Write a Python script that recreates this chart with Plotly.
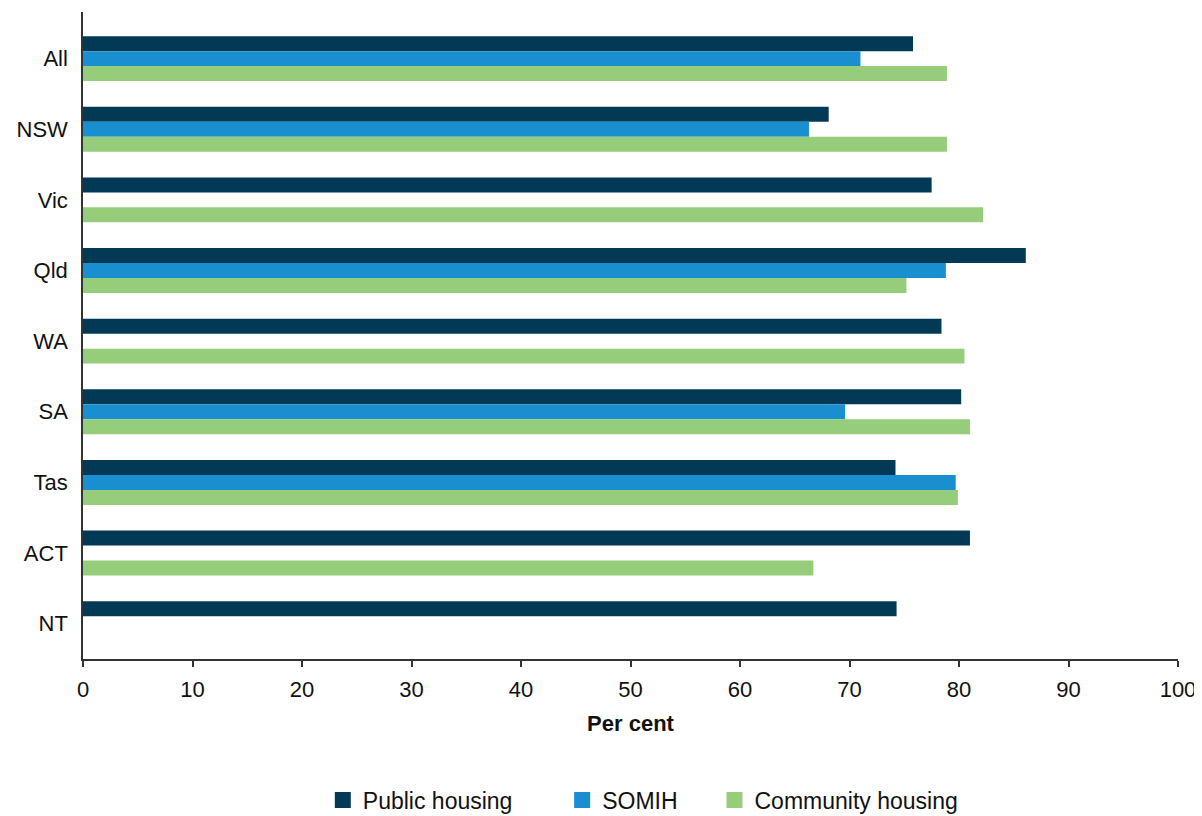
import plotly.graph_objects as go

categories = ["All", "NSW", "Vic", "Qld", "WA", "SA", "Tas", "ACT", "NT"]
public_housing = [75.8, 68.1, 77.5, 86.1, 78.4, 80.2, 74.2, 81.0, 74.3]
somih = [71.0, 66.3, None, 78.8, None, 69.6, 79.7, None, None]
community_housing = [78.9, 78.9, 82.2, 75.2, 80.5, 81.0, 79.9, 66.7, None]
x_ticks = [0, 10, 20, 30, 40, 50, 60, 70, 80, 90, 100]

series = [
    ("Public housing", public_housing, "#023a55", 7),
    ("SOMIH", somih, "#1a8fd0", 5),
    ("Community housing", community_housing, "#96cd7b", 0),
]

fig = go.Figure()
for name, vals, color, npad in series:
    fig.add_trace(go.Bar(
        y=categories, x=vals, name=name, orientation="h",
        marker=dict(color=color, line=dict(width=0)),
        showlegend=False,
    ))
for name, vals, color, npad in series:
    # legend-only entry with a larger square swatch
    fig.add_trace(go.Scatter(
        x=[None], y=[None], mode="markers", name=name + "\u00a0" * npad,
        marker=dict(symbol="square", size=17, color=color),
        showlegend=True, hoverinfo="skip",
    ))

font_family = "Liberation Sans, Arial, sans-serif"
fig.update_layout(
    width=1194, height=816,
    margin=dict(l=75, r=24, t=4, b=164),
    paper_bgcolor="white", plot_bgcolor="white",
    barmode="group", bargap=0.364, bargroupgap=0,
    font=dict(family=font_family, size=22, color="#111111"),
    xaxis=dict(
        range=[0, 100], tickvals=x_ticks, showgrid=False, zeroline=False,
        showline=True, linecolor="#333333", linewidth=1.5,
        ticks="outside", ticklen=6, tickcolor="#333333", tickwidth=1.5,
        ticklabelstandoff=4,
        title=dict(text="<b>Per cent</b>", font=dict(size=22), standoff=14),
        tickfont=dict(size=22),
    ),
    yaxis=dict(
        type="category", categoryorder="array", categoryarray=categories,
        range=[8.5, -0.66], showgrid=False, zeroline=False,
        showline=True, linecolor="#333333", linewidth=1.5,
        ticks="", ticklabelstandoff=9, tickfont=dict(size=22),
    ),
    legend=dict(
        orientation="h", x=0.219, xanchor="left", y=-0.216, yanchor="middle",
        font=dict(size=23, family=font_family),
        traceorder="normal", itemwidth=30,
    ),
)

fig.write_html("out.html")
